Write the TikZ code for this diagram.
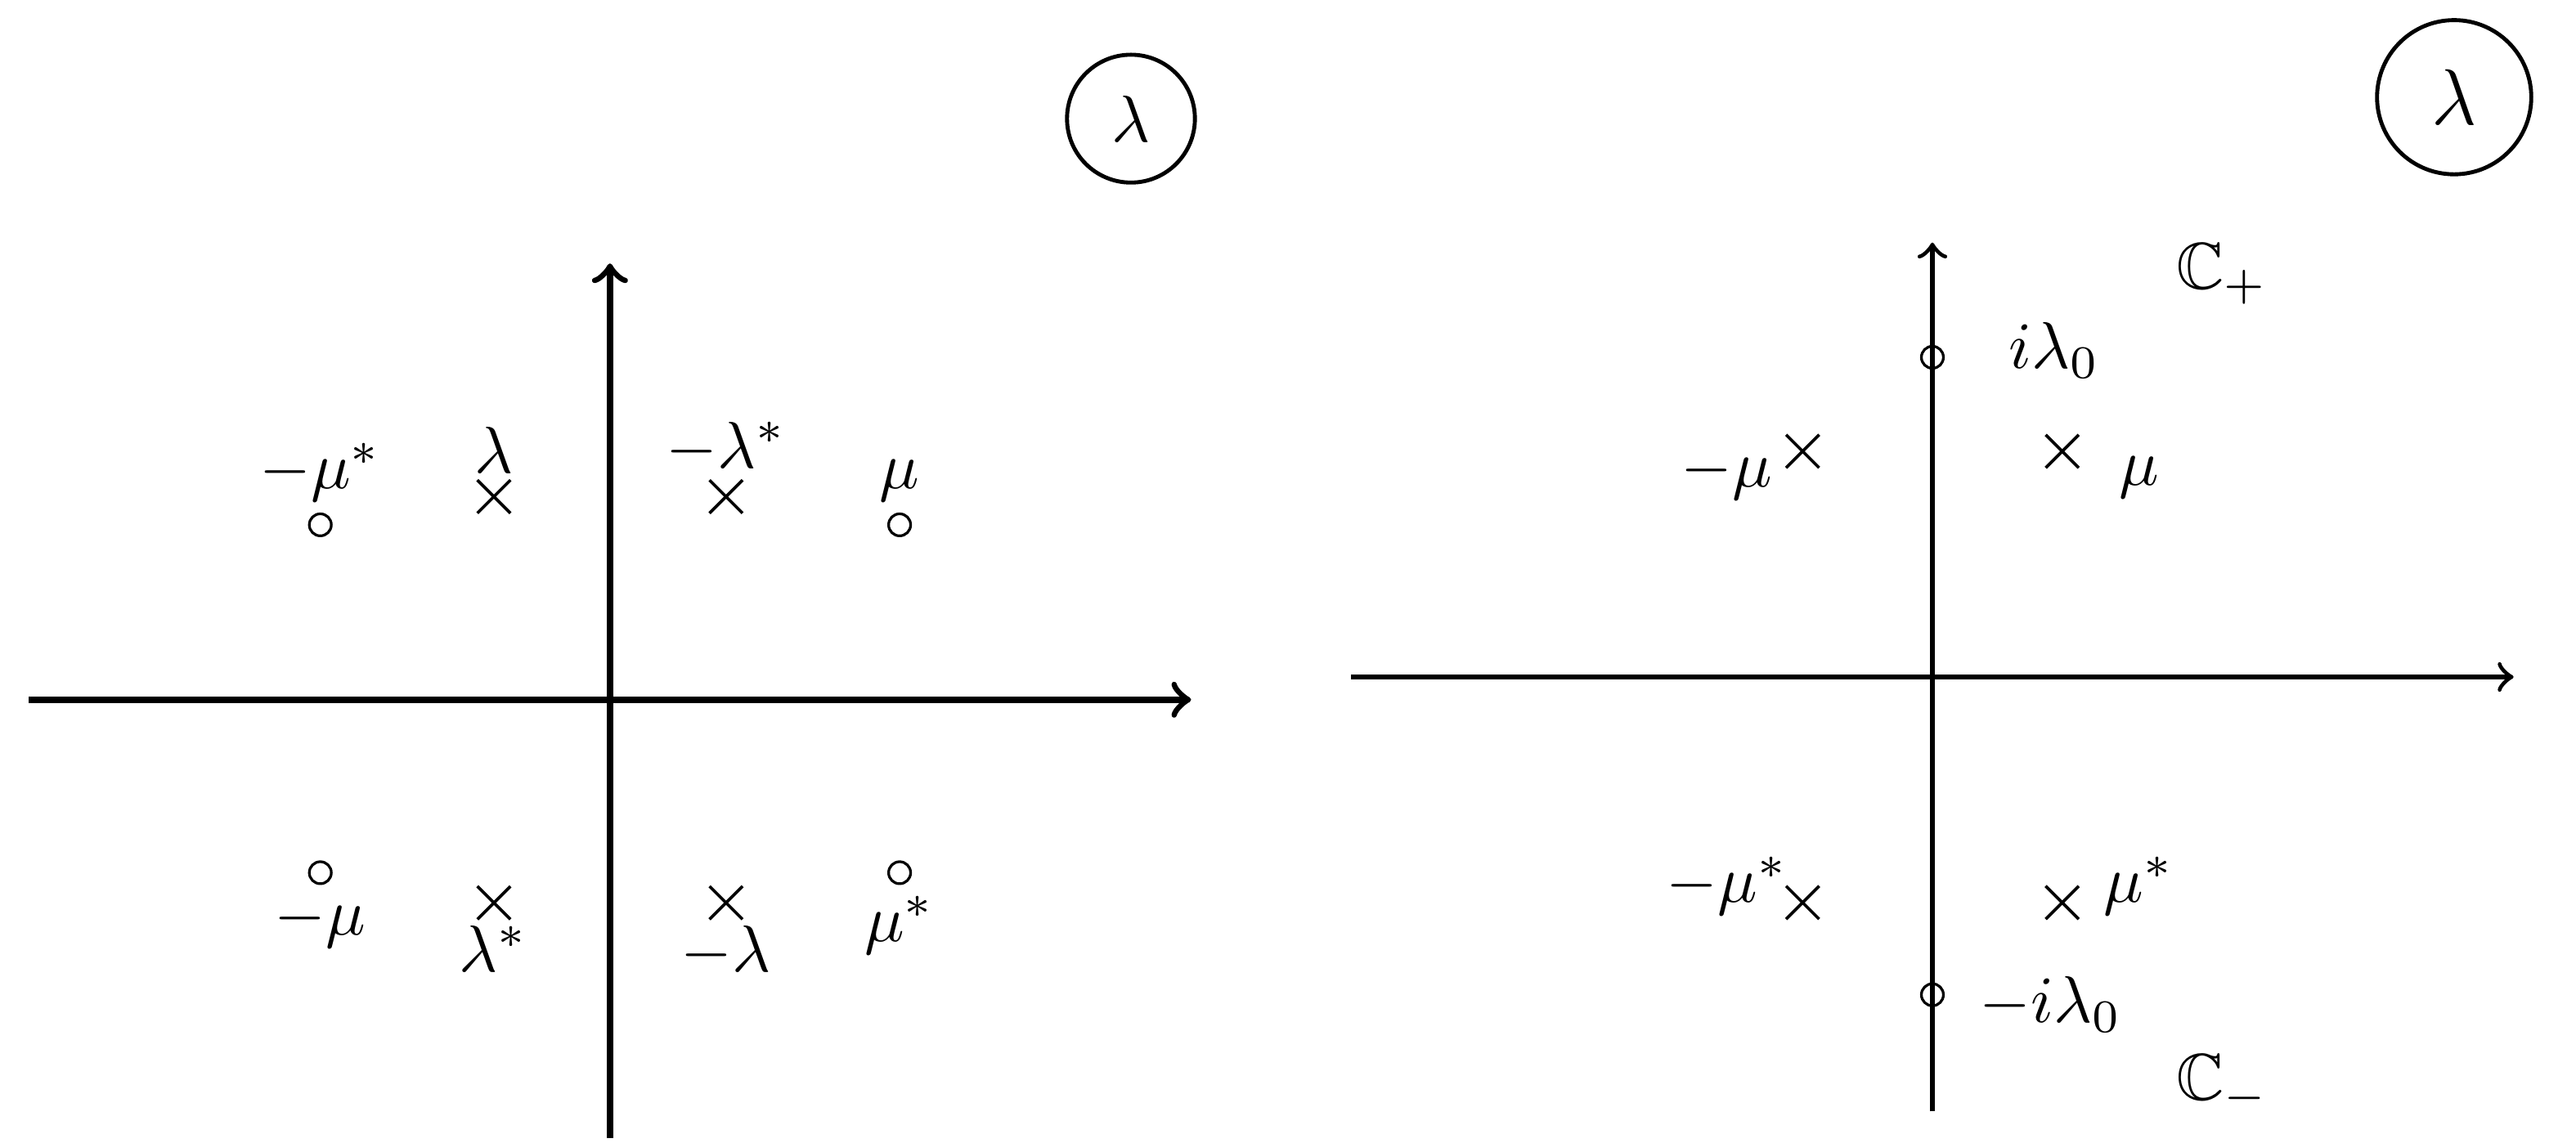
\documentclass[tikz,border=0pt]{standalone}
\usepackage{amsmath}
\usepackage{amssymb}
\usepackage{tikz}
\usetikzlibrary{shapes.misc}

\begin{document}
\begin{tikzpicture}[
			axis/.style={->, line width=1pt},
			thinaxis/.style={->, line width=0.7pt},
			zero/.style={circle, draw, line width=0.4pt, inner sep=0pt, minimum size=0.117cm},
			pole/.style={cross out, draw, line width=0.45pt, inner sep=0pt, minimum size=0.16cm},
			plane/.style={circle, draw, semithick, inner sep=0pt, minimum size=0.68cm},
			tag/.style={inner sep=0pt}
		]
		\useasboundingbox (0,0) rectangle (13.696,6.078);
		
		% left plane
		\begin{scope}[shift={(3.243,2.357)}]
		\coordinate (lW) at (-3.09,0);
		\coordinate (lE) at (3.09,0);
		\coordinate (lS) at (0,-2.33);
		\coordinate (lN) at (0,2.32);
		\draw[axis] (lW) -- (lE);
		\draw[axis] (lS) -- (lN);
		\node[plane] (lplane) at (2.77,3.09) {$\lambda$};
		
		\node[zero] (lz1) at (-1.54,0.93) {};
		\node[above] (lz1t) at (lz1.center) {$-\mu^*$};
		\node[pole] (lp1) at (-0.617,1.08) {};
		\node[above] (lp1t) at (lp1.center) {$\lambda$};
		\node[pole] (lp2) at (0.617,1.08) {};
		\node[above] (lp2t) at (lp2.center) {$-\lambda^*$};
		\node[zero] (lz2) at (1.54,0.93) {};
		\node[above] (lz2t) at (lz2.center) {$\mu$};
		
		\node[zero] (lz3) at (-1.54,-0.92) {};
		\node[below] (lz3t) at (lz3.center) {$-\mu$};
		\node[pole] (lp3) at (-0.617,-1.08) {};
		\node[below] (lp3t) at (lp3.center) {$\lambda^*$};
		\node[pole] (lp4) at (0.617,-1.08) {};
		\node[below] (lp4t) at (lp4.center) {$-\lambda$};
		\node[zero] (lz4) at (1.54,-0.92) {};
		\node[below] (lz4t) at (lz4.center) {$\mu^*$};
		\end{scope}
		
		% right plane
		\begin{scope}[shift={(10.274,2.478)}]
		\coordinate (rW) at (-3.09,0);
		\coordinate (rE) at (3.09,0);
		\coordinate (rS) at (0,-2.31);
		\coordinate (rN) at (0,2.31);
		\draw[thinaxis] (rW) -- (rE);
		\draw[thinaxis] (rS) -- (rN);
		\node[plane, minimum size=0.82cm, font=\large] (rplane) at (2.774,3.083) {$\lambda$};
		
		\node[zero] (rz1) at (0,1.70) {};
		\node[tag, anchor=base west] (rz1t) at (0.40,1.643) {$i\lambda_0$};
		\node[zero] (rz2) at (0,-1.69) {};
		\node[tag, anchor=base west] (rz2t) at (0.245,-1.835) {$-i\lambda_0$};
		
		\node[pole] (rp1) at (-0.69,1.20) {};
		\node[tag, anchor=base east] (rp1t) at (-0.845,1.01) {$-\mu$};
		\node[pole] (rp2) at (0.69,1.20) {};
		\node[tag, anchor=base west] (rp2t) at (0.985,1.02) {$\mu$};
		\node[pole] (rp3) at (-0.69,-1.20) {};
		\node[tag, anchor=base east] (rp3t) at (-0.76,-1.20) {$-\mu^*$};
		\node[pole] (rp4) at (0.69,-1.20) {};
		\node[tag, anchor=base west] (rp4t) at (0.905,-1.20) {$\mu^*$};
		
		\node[tag, anchor=base west] (cplus) at (1.29,2.065) {$\mathbb{C}_+$};
		\node[tag, anchor=base west] (cminus) at (1.29,-2.248) {$\mathbb{C}_-$};
		\end{scope}
		\end{tikzpicture}
\end{document}
